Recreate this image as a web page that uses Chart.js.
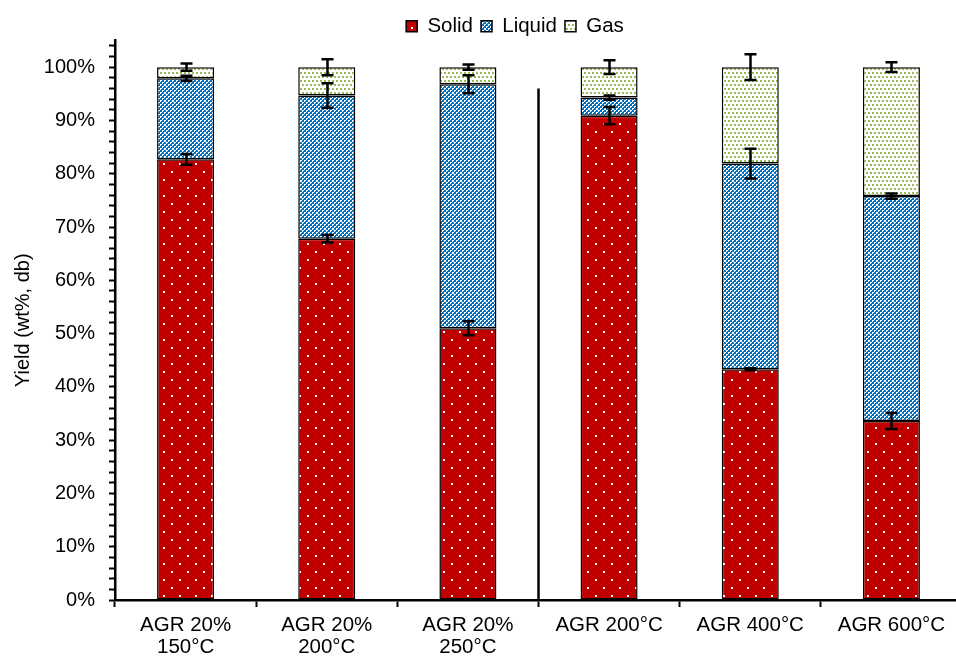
<!DOCTYPE html>
<html>
<head>
<meta charset="utf-8">
<script src="https://cdn.jsdelivr.net/npm/chart.js@4.4.0/dist/chart.umd.min.js"></script>
<style>
  html, body { margin: 0; padding: 0; background: #fff; overflow: hidden; }
  #wrap { width: 962px; height: 657px; }
</style>
</head>
<body>
<div id="wrap"><canvas id="chart" width="962" height="657"></canvas></div>
<script>
// ── DATA ──────────────────────────────────────────────────────────────
const categories = [['AGR 20%', '150°C'], ['AGR 20%', '200°C'], ['AGR 20%', '250°C'], 'AGR 200°C', 'AGR 400°C', 'AGR 600°C'];
const solid     = [82.7, 67.8, 51.0, 90.9, 43.3, 33.6];
const liquid    = [15.2, 26.9, 45.8,  3.4, 38.6, 42.2];
const gas       = [ 2.1,  5.3,  3.2,  5.7, 18.1, 24.2];
const solidErr  = [1.0, 0.7, 1.3, 1.6, 0.2, 1.5];
const liquidErr = [0.5, 2.3, 1.7, 0.4, 2.8, 0.5];
const gasErr    = [0.7, 1.5, 0.5, 1.3, 2.4, 0.9];
const separatorTop = 96;   // vertical divider between the two groups (in %)

// ── PATTERNS ──────────────────────────────────────────────────────────
function makePattern(w, h, draw) {
  const c = document.createElement('canvas');
  c.width = w; c.height = h;
  const g = c.getContext('2d');
  draw(g);
  return document.getElementById('chart').getContext('2d').createPattern(c, 'repeat');
}
const solidFill = makePattern(16, 16, g => {
  g.fillStyle = '#C00000'; g.fillRect(0, 0, 16, 16);
  g.fillStyle = '#fff'; g.fillRect(3, 3, 2, 2); g.fillRect(11, 11, 2, 2);
});
const liquidFill = makePattern(8, 8, g => {
  g.fillStyle = '#0070C0'; g.fillRect(0, 0, 8, 8);
  g.fillStyle = '#fff';
  // checker of 2px blocks, each white block missing one pixel
  for (let yy = 0; yy < 8; yy += 2) for (let xx = 0; xx < 8; xx += 2) {
    if (((xx + yy) / 2) % 2 === 0) { g.fillRect(xx, yy, 2, 1); g.fillRect(xx, yy + 1, 1, 1); }
  }
  g.fillRect(4, 4, 2, 2);
});
const gasFill = makePattern(8, 8, g => {
  g.fillStyle = '#fff'; g.fillRect(0, 0, 8, 8);
  g.fillStyle = '#9BBB59';
  g.fillRect(0, 0, 2, 2); g.fillRect(4, 0, 2, 2);
  g.fillRect(2, 4, 2, 2); g.fillRect(6, 4, 2, 2);
});

// ── PLUGINS ───────────────────────────────────────────────────────────
const errorBars = {
  id: 'errorBars',
  afterDatasetsDraw(chart) {
    const ctx = chart.ctx, ys = chart.scales.y, sets = chart.data.datasets;
    ctx.save();
    ctx.strokeStyle = '#000';
    ctx.lineWidth = 2.5;
    sets.forEach((ds, di) => {
      chart.getDatasetMeta(di).data.forEach((bar, i) => {
        let top = 0;
        for (let k = 0; k <= di; k++) top += sets[k].data[i];
        const e = ds.errors[i];
        const y1 = ys.getPixelForValue(top + e), y2 = ys.getPixelForValue(top - e);
        const x = Math.round(bar.x) + 0.5;
        ctx.beginPath();
        ctx.moveTo(x, y1); ctx.lineTo(x, y2);
        ctx.moveTo(x - 6, y1); ctx.lineTo(x + 6, y1);
        ctx.moveTo(x - 6, y2); ctx.lineTo(x + 6, y2);
        ctx.stroke();
      });
    });
    ctx.restore();
  }
};

const separator = {
  id: 'separator',
  afterDatasetsDraw(chart) {
    const ctx = chart.ctx, xs = chart.scales.x, ys = chart.scales.y;
    const x = (xs.getPixelForValue(2) + xs.getPixelForValue(3)) / 2;
    ctx.save();
    ctx.strokeStyle = '#000';
    ctx.lineWidth = 2.5;
    ctx.beginPath();
    ctx.moveTo(x, ys.getPixelForValue(separatorTop));
    ctx.lineTo(x, ys.getPixelForValue(0));
    ctx.stroke();
    ctx.restore();
  }
};

// legend sits right of the canvas centre and a bit lower in the original
const legendShift = {
  id: 'legendShift',
  afterLayout(chart) {
    const l = chart.legend;
    l.left += 34; l.right += 34;
    l.top += 6; l.bottom += 6;
  }
};

// ── CHART ─────────────────────────────────────────────────────────────
Chart.defaults.font.family = '"Liberation Sans", Arial, sans-serif';
Chart.defaults.font.size = 20.5;
Chart.defaults.color = '#000';

const barStyle = { borderColor: '#000', borderWidth: 1.5, borderSkipped: false, barPercentage: 0.404, categoryPercentage: 1 };

new Chart(document.getElementById('chart'), {
  type: 'bar',
  data: {
    labels: categories,
    datasets: [
      { label: 'Solid',  data: solid,  errors: solidErr,  backgroundColor: solidFill,  ...barStyle },
      { label: 'Liquid', data: liquid, errors: liquidErr, backgroundColor: liquidFill, ...barStyle },
      { label: 'Gas',    data: gas,    errors: gasErr,    backgroundColor: gasFill,    ...barStyle },
    ]
  },
  options: {
    responsive: false,
    animation: false,
    devicePixelRatio: 1,
    layout: { padding: { top: 2, left: 0, right: 0, bottom: 0 } },
    plugins: {
      legend: {
        position: 'top',
        labels: { boxWidth: 11, boxHeight: 11, padding: 8, font: { size: 20.5, lineHeight: 1.0 } }
      },
      tooltip: { enabled: false }
    },
    scales: {
      x: {
        stacked: true,
        grid: { offset: true, drawOnChartArea: false, tickLength: 7, tickColor: '#000', tickWidth: 2 },
        border: { color: '#000', width: 2.5 },
        ticks: { padding: 7, font: { size: 20.5, lineHeight: 1.1 }, maxRotation: 0, autoSkip: false },
        afterFit: s => { s.height = 57; }
      },
      y: {
        stacked: true,
        min: 0, max: 105,
        afterBuildTicks: s => {
          s.ticks = [];
          for (let v = 0; v <= 104; v += 2) s.ticks.push({ value: v });
        },
        grid: { drawOnChartArea: false, tickLength: 6, tickColor: '#000', tickWidth: 2 },
        border: { color: '#000', width: 2.5 },
        ticks: { padding: 14, autoSkip: false, font: { size: 20 }, callback: v => (v % 10 === 0 ? v + '%' : '') },
        title: { display: true, text: 'Yield (wt%, db)', padding: { top: 11, bottom: 0 }, font: { size: 20 } },
        afterFit: s => { s.width = 115; }
      }
    }
  },
  plugins: [errorBars, separator, legendShift]
});
</script>
</body>
</html>
